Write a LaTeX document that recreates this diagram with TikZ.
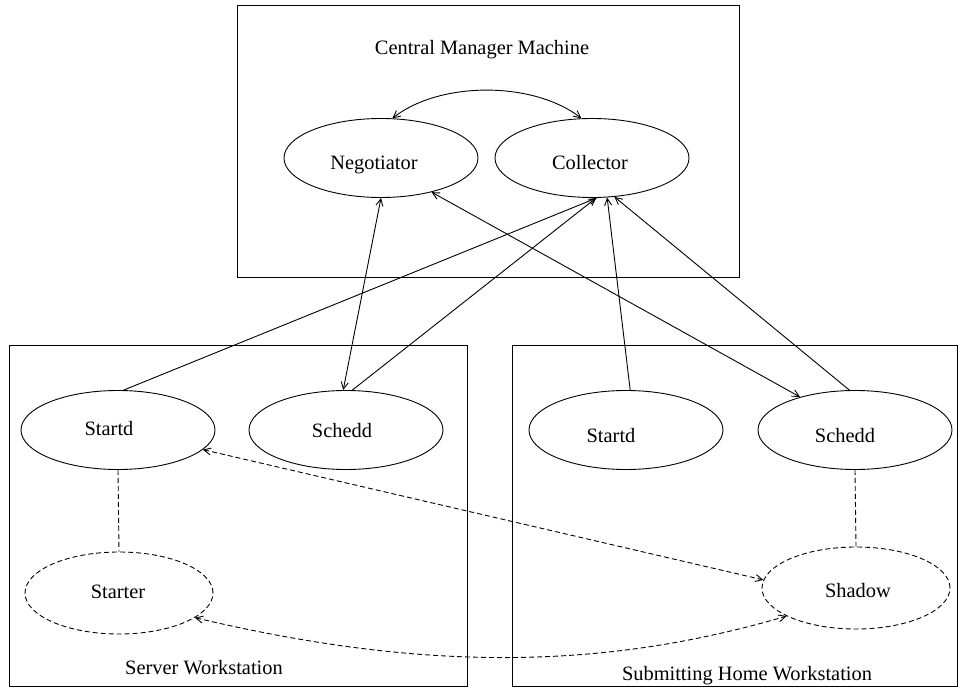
\documentclass[tikz,border=0pt]{standalone}
\usepackage{fontspec}
\setmainfont{Liberation Serif}
\usetikzlibrary{shapes.geometric,arrows.meta}
\begin{document}
\begin{tikzpicture}[x=1pt,y=-1pt,
  line width=0.9pt,
  >={Straight Barb[length=7pt,width=7pt]},
  machine/.style={draw},
  proc/.style={ellipse,draw,minimum width=194pt,minimum height=79pt,inner sep=0pt},
  dsh/.style={dash pattern=on 5pt off 3pt},
  aux/.style={proc,dsh,minimum width=188pt,minimum height=82pt},
  lbl/.style={anchor=base,inner sep=0pt,font=\fontsize{20.4}{24}\selectfont},
  msg/.style={<->},
  rep/.style={->},
  link/.style={dsh},
]
\useasboundingbox (0,0) rectangle (959,687);

% machines
\draw[machine] (237.5,5.5) rectangle (739,277);
\draw[machine] (9,345) rectangle (467,686);
\draw[machine] (512,345) rectangle (957.5,686);

\node[lbl] (cmm) at (482,55) {Central Manager Machine};
\node[lbl] (srv) at (204,674) {Server Workstation};
\node[lbl] (sub) at (747,680.5) {Submitting Home Workstation};

% daemons on the central manager
\node[proc] (neg) at (381,158) {};
\node[proc] (col) at (592,158) {};
\node[lbl] (negL) at (374,170) {Negotiator};
\node[lbl] (colL) at (590,170) {Collector};

% server workstation
\node[proc] (stdA) at (118,430) {};
\node[proc] (schA) at (346,430) {};
\node[aux]  (str)  at (119,593) {};
\node[lbl] (stdAL) at (109,435) {Startd};
\node[lbl] (schAL) at (342,437) {Schedd};
\node[lbl] (strL)  at (118,598) {Starter};

% submitting home workstation
\node[proc] (stdB) at (626,430) {};
\node[proc] (schB) at (855,430) {};
\node[aux]  (shd)  at (856,588) {};
\node[lbl] (stdBL) at (611,442) {Startd};
\node[lbl] (schBL) at (845,442) {Schedd};
\node[lbl] (shdL)  at (858,597) {Shadow};

% negotiator / collector exchange
\draw[msg] (neg.74.6) .. controls (440,81) and (533,81) .. (col.105.4);

% negotiator talks to the schedds
\draw[msg] (neg.-90) -- (schA.94.4);
\draw[msg] (neg.-34.5) -- (schB.149.9);

% updates sent to the collector
\draw[rep] (stdA.82.7) -- (col.-83);
\draw[rep] (schA.81.3) -- (col.-84);
\draw[rep] (stdB.84) -- (col.-69);
\draw[rep] (schB.98) -- (col.-60);

% spawned processes
\draw[link] (stdA.south) -- (str.north);
\draw[link] (schB.south) -- (shd.north);

% claim and remote system calls
\draw[msg,dsh] (stdA.-13.1) -- (shd.175.7);
\draw[msg,dsh] (str.-18.7) .. controls (420,671) and (600,671) .. (shd.202.4);
\end{tikzpicture}
\end{document}
